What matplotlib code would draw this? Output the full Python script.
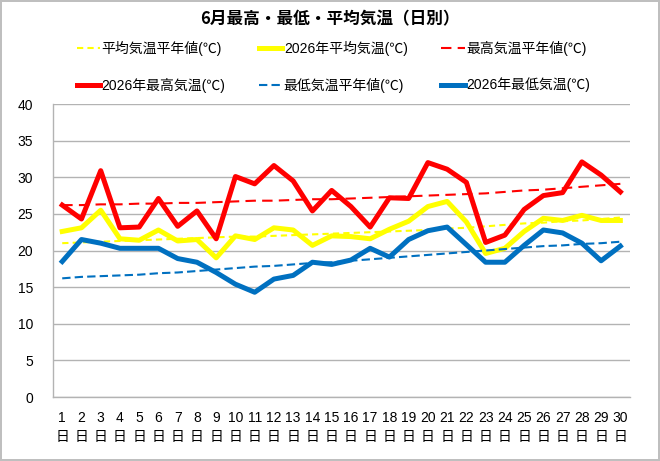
import matplotlib
matplotlib.use('Agg')
import matplotlib.pyplot as plt

plt.rcParams['font.family'] = ['Liberation Sans', 'Noto Sans CJK JP', 'DejaVu Sans']
plt.rcParams['axes.unicode_minus'] = False

days = list(range(1, 31))
xlabels = [f'{d}\n日' for d in days]

avg_normal = [21.0, 21.1, 21.2, 21.3, 21.4, 21.5, 21.6, 21.7, 21.8, 21.9,
              21.9, 22.0, 22.1, 22.2, 22.3, 22.4, 22.5, 22.6, 22.7, 22.8,
              23.0, 23.1, 23.3, 23.5, 23.7, 23.8, 24.0, 24.1, 24.3, 24.5]
avg_2026 = [22.6, 23.1, 25.5, 21.6, 21.4, 22.8, 21.3, 21.5, 19.0, 22.0,
            21.5, 23.1, 22.8, 20.7, 22.0, 21.9, 21.6, 22.9, 24.0, 26.0,
            26.7, 23.9, 19.6, 20.3, 22.6, 24.4, 24.1, 24.8, 24.1, 24.1]
max_normal = [26.2, 26.2, 26.3, 26.3, 26.4, 26.4, 26.5, 26.5, 26.6, 26.7,
              26.8, 26.8, 26.9, 27.0, 27.0, 27.1, 27.2, 27.3, 27.4, 27.5,
              27.6, 27.7, 27.8, 28.0, 28.2, 28.3, 28.5, 28.7, 28.9, 29.1]
max_2026 = [26.2, 24.3, 30.9, 23.1, 23.2, 27.1, 23.3, 25.4, 21.6, 30.1,
            29.1, 31.6, 29.5, 25.4, 28.2, 26.0, 23.2, 27.2, 27.1, 32.0,
            31.1, 29.3, 21.1, 22.1, 25.6, 27.5, 27.9, 32.1, 30.3, 28.0]
min_normal = [16.2, 16.4, 16.5, 16.6, 16.7, 16.9, 17.0, 17.2, 17.4, 17.6,
              17.8, 17.9, 18.1, 18.3, 18.4, 18.6, 18.8, 19.0, 19.2, 19.4,
              19.6, 19.8, 20.0, 20.2, 20.4, 20.6, 20.7, 20.9, 21.0, 21.2]
min_2026 = [18.5, 21.5, 21.0, 20.3, 20.3, 20.3, 18.9, 18.4, 17.0, 15.4,
            14.3, 16.1, 16.6, 18.4, 18.1, 18.7, 20.3, 19.1, 21.5, 22.7,
            23.2, 20.8, 18.4, 18.4, 20.7, 22.8, 22.4, 21.0, 18.6, 20.6]

labels = ['平均気温平年値(℃)', '2026年平均気温(℃)', '最高気温平年値(℃)',
          '2026年最高気温(℃)', '最低気温平年値(℃)', '2026年最低気温(℃)']

fig = plt.figure(figsize=(6.6, 4.61), dpi=100, edgecolor='#bfbfbf', linewidth=1.5)
ax = fig.add_axes([0.0797, 0.1388, 0.8748, 0.6356])

yellow = '#FFFF00'
red = '#FF0000'
blue = '#0070C0'

l1, = ax.plot(days, avg_normal, color=yellow, lw=1.5, dashes=(3, 2))
l2, = ax.plot(days, avg_2026, color=yellow, lw=3.6)
l3, = ax.plot(days, max_normal, color=red, lw=1.5, dashes=(5, 3))
l4, = ax.plot(days, max_2026, color=red, lw=3.6)
l5, = ax.plot(days, min_normal, color=blue, lw=1.5, dashes=(4, 2))
l6, = ax.plot(days, min_2026, color=blue, lw=3.6)

ax.set_xlim(0.5, 30.5)
ax.set_ylim(0, 40)
ax.set_yticks(range(0, 41, 5))
ax.set_xticks(days)
ax.set_xticklabels(xlabels, linespacing=1.5)
ax.tick_params(axis='both', length=0, labelsize=10)
ax.tick_params(axis='y', pad=14)
ax.tick_params(axis='x', pad=10)
ax.grid(axis='y', color='#b3b3b3', lw=1)
ax.set_axisbelow(True)
for s in ['top', 'right']:
    ax.spines[s].set_visible(False)
for s in ['left', 'bottom']:
    ax.spines[s].set_color('#b3b3b3')
    ax.spines[s].set_linewidth(1)

fig.text(0.5, 0.957, '6月最高・最低・平均気温（日別）', ha='center', va='center',
         fontsize=12, fontweight='bold', family=['Noto Sans CJK JP'])

# legend filled column by column, so reorder to get the row layout
handles = [l1, l4, l2, l5, l3, l6]
order = [0, 3, 1, 4, 2, 5]
fig.legend(handles, [labels[i] for i in order], ncol=3, loc='center',
           bbox_to_anchor=(0.505, 0.855), frameon=False, fontsize=10,
           handlelength=1.7, handletextpad=0.1, columnspacing=2.4,
           labelspacing=1.55)

fig.savefig('out.png', dpi=100, edgecolor=fig.get_edgecolor())
